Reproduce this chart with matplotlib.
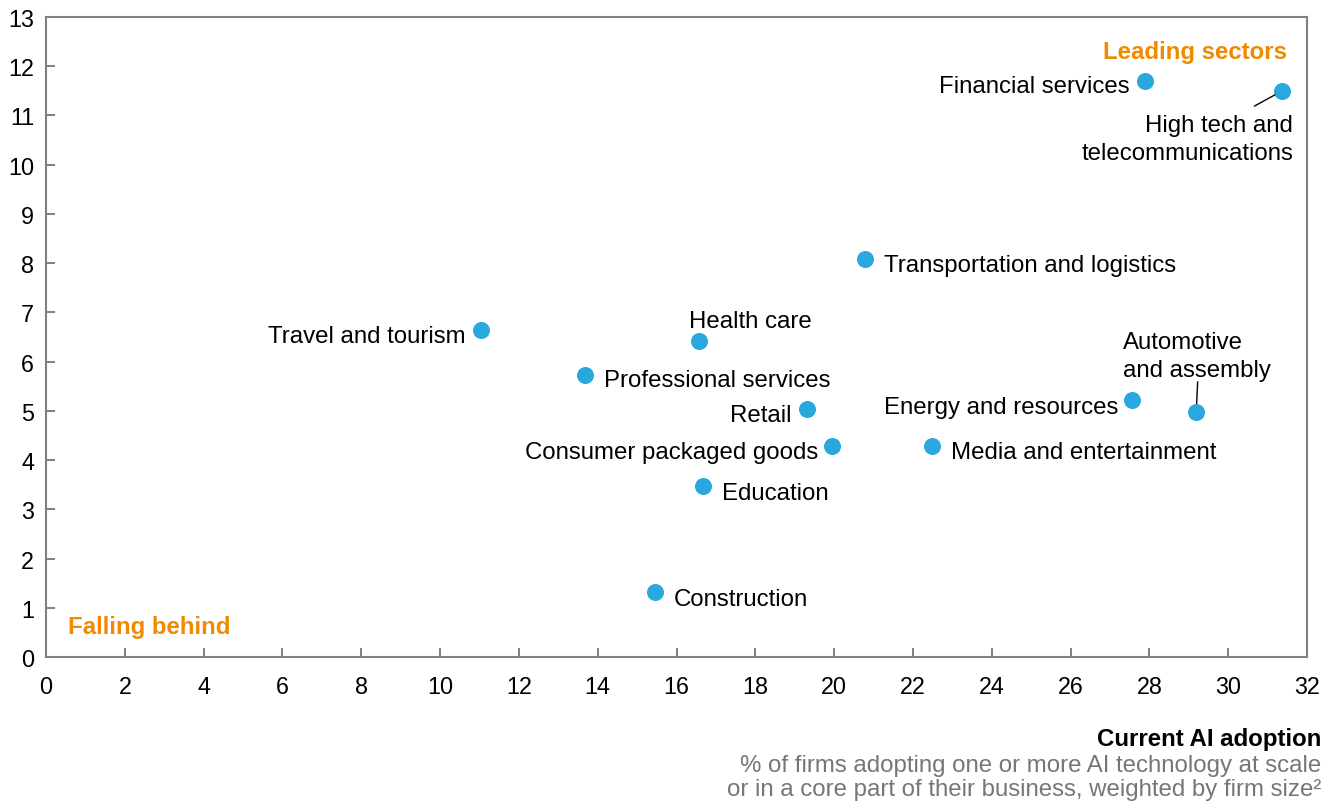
import matplotlib
matplotlib.use("Agg")
import matplotlib.pyplot as plt

plt.rcParams['font.family'] = ['Liberation Sans', 'DejaVu Sans']

sectors = ["Financial services", "High tech and\ntelecommunications", "Transportation and logistics",
           "Travel and tourism", "Health care", "Professional services", "Retail",
           "Energy and resources", "Automotive\nand assembly", "Consumer packaged goods",
           "Media and entertainment", "Education", "Construction"]
adoption = [27.89, 31.37, 20.79, 11.04, 16.57, 13.68, 19.31, 27.56, 29.19, 19.95, 22.49, 16.68, 15.46]
future = [11.70, 11.50, 8.08, 6.64, 6.42, 5.73, 5.04, 5.22, 4.98, 4.29, 4.29, 3.47, 1.32]
x_ticks = list(range(0, 33, 2))
y_ticks = list(range(0, 14))

# label placement: (dx, dy) in points, ha
label_style = {
    "Financial services": ((-11, -3.8), 'right'),
    "High tech and\ntelecommunications": ((8, -34.5), 'right'),
    "Transportation and logistics": ((13.7, -4.3), 'left'),
    "Travel and tourism": ((-10.8, -4.3), 'right'),
    "Health care": ((-7.2, 14), 'left'),
    "Professional services": ((13.7, -3.6), 'left'),
    "Retail": ((-10.8, -4.3), 'right'),
    "Energy and resources": ((-10, -4.8), 'right'),
    "Automotive\nand assembly": ((-52.5, 40.0), 'left'),
    "Consumer packaged goods": ((-10, -4.8), 'right'),
    "Media and entertainment": ((13.7, -4.8), 'left'),
    "Education": ((13.7, -4.8), 'left'),
    "Construction": ((13.7, -4.8), 'left'),
}
leaders = {
    "High tech and\ntelecommunications": (-20, -11),
    "Automotive\nand assembly": (1, 21.6),
}

fig = plt.figure(figsize=(13.41, 8.04), dpi=100)
ax = fig.add_axes([46/1341, 146/804, 1261/1341, 640/804])

ax.scatter(adoption, future, s=150, color='#29A8E0', zorder=3, linewidths=0)

for name, x, y in zip(sectors, adoption, future):
    (dx, dy), ha = label_style[name]
    ax.annotate(name, (x, y), xytext=(dx, dy), textcoords='offset points',
                ha=ha, va='center', fontsize=17.3, color='black', linespacing=1.36)
    if name in leaders:
        ax.annotate('', xy=(x, y), xytext=leaders[name], textcoords='offset points',
                    arrowprops=dict(arrowstyle='-', color='black', lw=1, shrinkA=0, shrinkB=6))

ax.set_xlim(0, 32)
ax.set_ylim(0, 13)
ax.set_xticks(x_ticks)
ax.set_yticks(y_ticks)
ax.tick_params(axis='both', direction='in', length=6.5, width=1.4, color='#808080',
               labelsize=16.8, labelcolor='black')
ax.tick_params(axis='x', pad=13)
ax.tick_params(axis='y', pad=8.5)
for sp in ax.spines.values():
    sp.set_color('#808080')
    sp.set_linewidth(1.5)

fig.text(1287/1341, 1 - 53/804, "Leading sectors", ha='right', va='center',
         fontsize=17.3, fontweight='bold', color='#F08A00')
fig.text(68/1341, 1 - 628/804, "Falling behind", ha='left', va='center',
         fontsize=17.3, fontweight='bold', color='#F08A00')

fig.text(1321/1341, 1 - 740/804, "Current AI adoption", ha='right', va='center',
         fontsize=17.3, fontweight='bold', color='black')
fig.text(1321/1341, 1 - 778/804,
         "% of firms adopting one or more AI technology at scale\nor in a core part of their business, weighted by firm size\u00b2",
         ha='right', va='center', fontsize=17.3, color='#767676', linespacing=1.1)

fig.savefig("out.png", dpi=100)
